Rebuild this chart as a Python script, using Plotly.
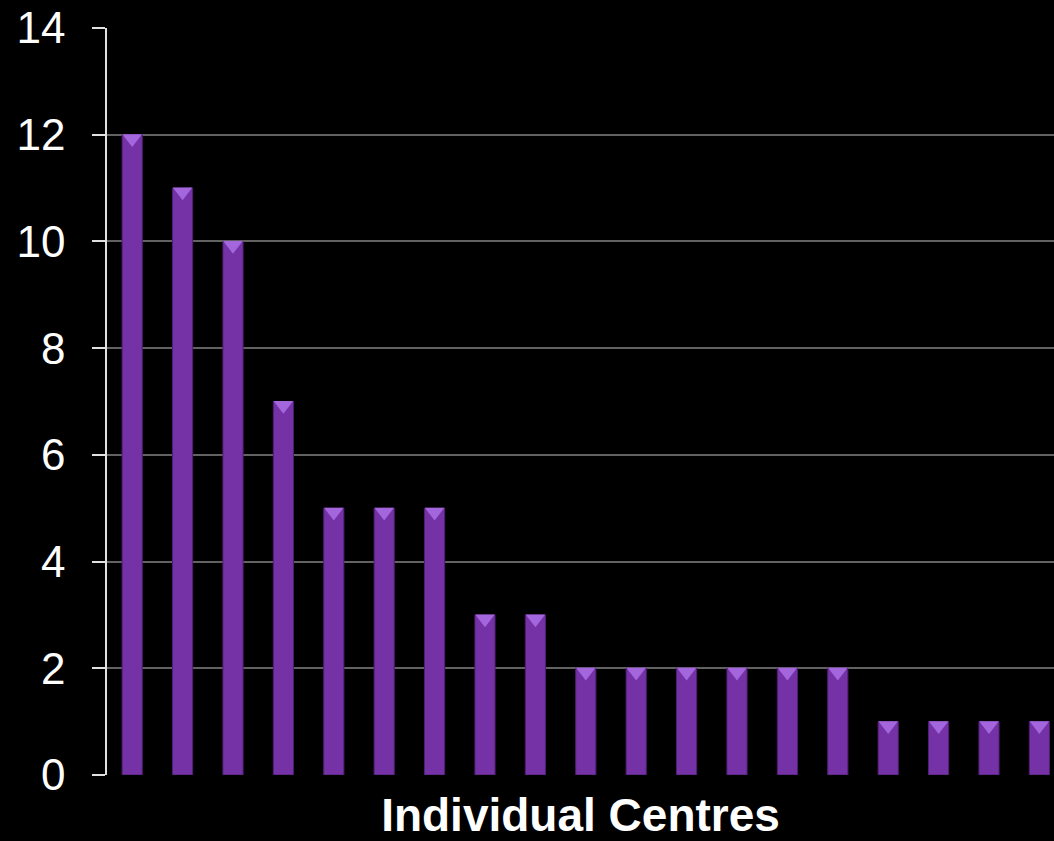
import plotly.graph_objects as go

# numero de publicaciones por centro
centre_idx = list(range(19))
counts = [12, 11, 10, 7, 5, 5, 5, 3, 3, 2, 2, 2, 2, 2, 2, 1, 1, 1, 1]
y_ticks = [0, 2, 4, 6, 8, 10, 12, 14]

fig = go.Figure()
fig.add_trace(go.Bar(x=centre_idx, y=counts, width=0.4,
                     marker=dict(color='#7532a6', line=dict(color='#4f1f72', width=1)),
                     showlegend=False, hoverinfo='skip'))
# brillo triangular arriba de cada barra (efecto bisel)
fig.add_trace(go.Scatter(x=centre_idx, y=[c - 0.07 for c in counts], mode='markers',
                         marker=dict(symbol='triangle-down', size=17, color='#a466dc',
                                     line=dict(width=0)),
                         showlegend=False, hoverinfo='skip', cliponaxis=False))

fig.update_layout(
    width=1054, height=841,
    paper_bgcolor='black', plot_bgcolor='black',
    margin=dict(l=107, r=0, t=28, b=66, autoexpand=False),
    font=dict(family='Liberation Sans, Arial, sans-serif', color='white'),
    xaxis=dict(range=[-0.5, 18.29], showticklabels=False, showgrid=False, zeroline=False,
               showline=False, ticks='', automargin=False,
               title=dict(text='<b>Individual Centres</b>', font=dict(size=46, color='white'),
                          standoff=25)),
    yaxis=dict(range=[0, 14], tickvals=y_ticks, ticks='outside', ticklen=13, tickwidth=1.5,
               tickcolor='#e0e0e0', showline=True, linecolor='#e0e0e0', linewidth=1.5,
               gridcolor='#626262', gridwidth=1.5, zeroline=False, automargin=False,
               tickfont=dict(size=44, color='white'), ticklabelstandoff=18),
)
# quitar el margen blanco del body
fig.write_html("out.html", config={'displayModeBar': False},
               post_script="document.body.style.margin='0';")
